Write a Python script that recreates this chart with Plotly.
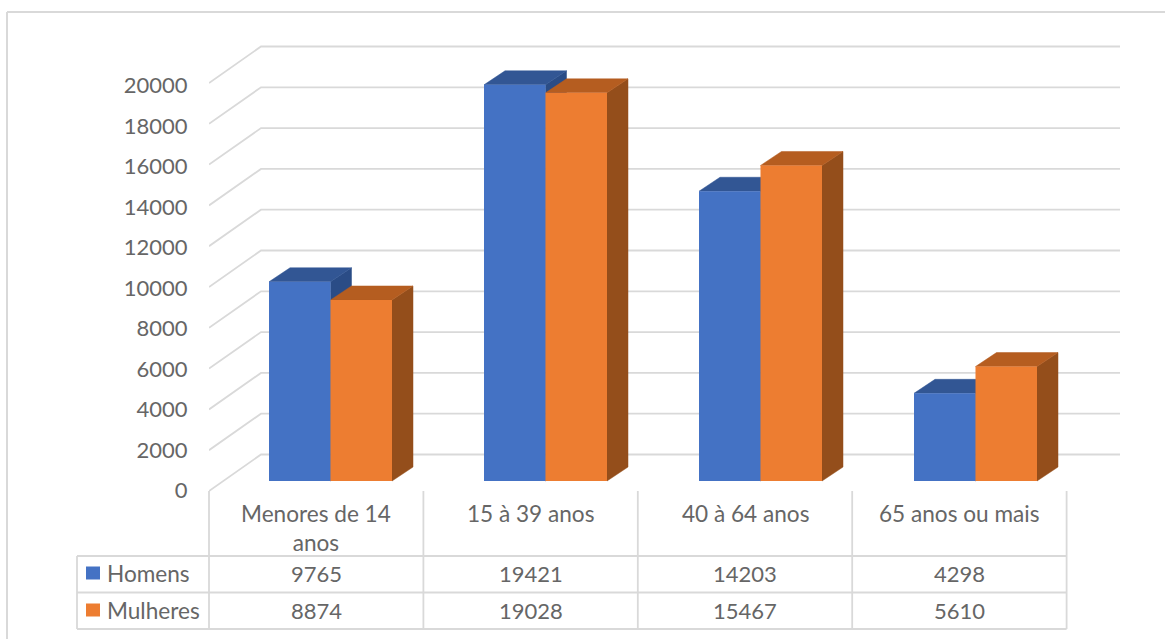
import plotly.graph_objects as go

categories = ["Menores de 14<br>anos", "15 à 39 anos", "40 à 64 anos", "65 anos ou mais"]
homens = [9765, 19421, 14203, 4298]
mulheres = [8874, 19028, 15467, 5610]
y_ticks = list(range(0, 20001, 2000))

W, H = 1165, 639
PLOT_L, PLOT_R, PLOT_T, PLOT_B = 209, 1120, 40, 495
ZERO_PY = 491
PX_PER_UNIT = 408 / 20000
SLOT_PX = 215
TABLE_SLOT_PX = 214.4

# Tick labels run on a slightly tighter scale than the front plane
LABEL_ZERO_PY = 490.5
LABEL_PX_PER_UNIT = 405 / 20000


def dx(px):
    return px / SLOT_PX


def dy(px):
    return px / PX_PER_UNIT


def px_x(px):
    return (px - PLOT_L) / (PLOT_R - PLOT_L)


def px_y(py):
    return (PLOT_B - py) / (PLOT_B - PLOT_T)


x_range = [-0.5, dx(PLOT_R - PLOT_L) - 0.5]
y_range = [dy(ZERO_PY - PLOT_B), dy(ZERO_PY - PLOT_T)]
label_range = [(LABEL_ZERO_PY - PLOT_B) / LABEL_PX_PER_UNIT,
               (LABEL_ZERO_PY - PLOT_T) / LABEL_PX_PER_UNIT]

# Oblique projection: the back wall and the bars sit behind the front plane
WALL_DX, WALL_DY = dx(52), dy(36.5)
LIFT_X, LIFT_Y = dx(14), dy(10)
DEPTH_X, DEPTH_Y = dx(21), dy(14)
BAR_W = dx(61.5)

GRID = "#D9D9D9"
TEXT = "#666666"
FONT = "Lato"
DIGIT_SIZE = 22
LABEL_SIZE = 22.6

BLUE, BLUE_TOP, BLUE_SIDE = "#4472C4", "#325694", "#2A4C86"
ORANGE, ORANGE_TOP, ORANGE_SIDE = "#ED7D31", "#B55D20", "#944E1B"

fig = go.Figure()

# Back-wall grid: diagonal floor-to-wall segment, then a horizontal run
for v in y_ticks:
    fig.add_trace(go.Scatter(
        x=[x_range[0], x_range[0] + WALL_DX, x_range[1]],
        y=[v, v + WALL_DY, v + WALL_DY],
        mode="lines", line=dict(color=GRID, width=1.8),
        hoverinfo="skip", showlegend=False, cliponaxis=False,
    ))


def depth_faces(values, left_shift):
    """Top and side parallelograms of each bar, separated by gaps."""
    tx, ty, sx, sy = [], [], [], []
    for i, v in enumerate(values):
        x0 = i + LIFT_X + left_shift
        x1 = x0 + BAR_W
        top = v + LIFT_Y
        tx += [x0, x1, x1 + DEPTH_X, x0 + DEPTH_X, x0, None]
        ty += [top, top, top + DEPTH_Y, top + DEPTH_Y, top, None]
        sx += [x1, x1 + DEPTH_X, x1 + DEPTH_X, x1, x1, None]
        sy += [LIFT_Y, LIFT_Y + DEPTH_Y, top + DEPTH_Y, top, LIFT_Y, None]
    return tx, ty, sx, sy


def add_faces(values, left_shift, top_color, side_color):
    tx, ty, sx, sy = depth_faces(values, left_shift)
    for xs, ys, color in ((sx, sy, side_color), (tx, ty, top_color)):
        fig.add_trace(go.Scatter(
            x=xs, y=ys, mode="lines", fill="toself", fillcolor=color,
            line=dict(color=color, width=0.5),
            hoverinfo="skip", showlegend=False, cliponaxis=False,
        ))


add_faces(homens, -BAR_W, BLUE_TOP, BLUE_SIDE)
add_faces(mulheres, 0, ORANGE_TOP, ORANGE_SIDE)

# Front faces live on an overlaying axis pair so they cover the depth faces
positions = list(range(len(categories)))
fig.add_trace(go.Bar(
    x=positions, y=homens, base=LIFT_Y, name="Homens",
    width=BAR_W, offset=LIFT_X - BAR_W, marker=dict(color=BLUE, line=dict(width=0)),
    xaxis="x2", yaxis="y2", showlegend=False,
))
fig.add_trace(go.Bar(
    x=positions, y=mulheres, base=LIFT_Y, name="Mulheres",
    width=BAR_W, offset=LIFT_X, marker=dict(color=ORANGE, line=dict(width=0)),
    xaxis="x2", yaxis="y2", showlegend=False,
))

# Empty trace that keeps the tick-label axis on the page
fig.add_trace(go.Scatter(
    x=[0], y=[0], mode="markers", marker=dict(opacity=0),
    xaxis="x", yaxis="y3", hoverinfo="skip", showlegend=False,
))

# Data table below the plot
shapes = []


def rule(x0, y0, x1, y1, width=1.8):
    shapes.append(dict(
        type="line", xref="paper", yref="paper", layer="below",
        x0=px_x(x0), y0=px_y(y0), x1=px_x(x1), y1=px_y(y1),
        line=dict(color=GRID, width=width),
    ))


TABLE_L, TABLE_R = 77, PLOT_L + TABLE_SLOT_PX * len(categories)
ROW_TOP, ROW_MID, ROW_BOT = 556, 592.5, 629
for py in (ROW_TOP, ROW_MID, ROW_BOT):
    rule(TABLE_L, py, TABLE_R, py)
rule(TABLE_L, ROW_TOP, TABLE_L, ROW_BOT)
for i in range(len(categories) + 1):
    rule(PLOT_L + TABLE_SLOT_PX * i, ZERO_PY, PLOT_L + TABLE_SLOT_PX * i, ROW_BOT)

# Outer chart frame
rule(7, 12, W, 12, 2)
rule(7, 12, 7, H, 2)

annotations = []


def label(text, px, py, xanchor="center", size=LABEL_SIZE):
    annotations.append(dict(
        text=text, x=px_x(px), xref="paper", y=px_y(py), yref="paper",
        xanchor=xanchor, yanchor="middle", showarrow=False,
        align="center", font=dict(family=FONT, size=size, color=TEXT),
    ))


for i, name in enumerate(categories):
    column = PLOT_L + TABLE_SLOT_PX * (i + 0.5)
    label(name, column, 528 if "<br>" in name else 513.5)
    label(str(homens[i]), column, 573, size=DIGIT_SIZE)
    label(str(mulheres[i]), column, 610, size=DIGIT_SIZE)

# Legend keys inside the table
label("Homens", 105, 573, "left")
label("Mulheres", 105, 610, "left")
for color, py in ((BLUE, 573), (ORANGE, 610)):
    shapes.append(dict(
        type="rect", xref="paper", yref="paper",
        x0=px_x(86), x1=px_x(100), y0=px_y(py - 6.5), y1=px_y(py + 6.5),
        fillcolor=color, line=dict(width=0),
    ))

fig.update_layout(
    width=W, height=H,
    margin=dict(l=PLOT_L, r=W - PLOT_R, t=PLOT_T, b=H - PLOT_B, autoexpand=False),
    paper_bgcolor="white", plot_bgcolor="white",
    showlegend=False, shapes=shapes, annotations=annotations,
    xaxis=dict(range=x_range, visible=False, fixedrange=True),
    yaxis=dict(range=y_range, visible=False, fixedrange=True),
    xaxis2=dict(range=x_range, visible=False, overlaying="x", fixedrange=True),
    yaxis2=dict(range=y_range, visible=False, overlaying="y", fixedrange=True),
    yaxis3=dict(
        range=label_range, overlaying="y", side="left", anchor="x",
        tickvals=y_ticks, tickformat="d", showgrid=False,
        zeroline=False, showline=False, ticks="outside", ticklen=16,
        tickcolor="rgba(0,0,0,0)",
        tickfont=dict(family=FONT, size=DIGIT_SIZE, color=TEXT), fixedrange=True,
    ),
)

fig.write_html("out.html", config=dict(displayModeBar=False))
